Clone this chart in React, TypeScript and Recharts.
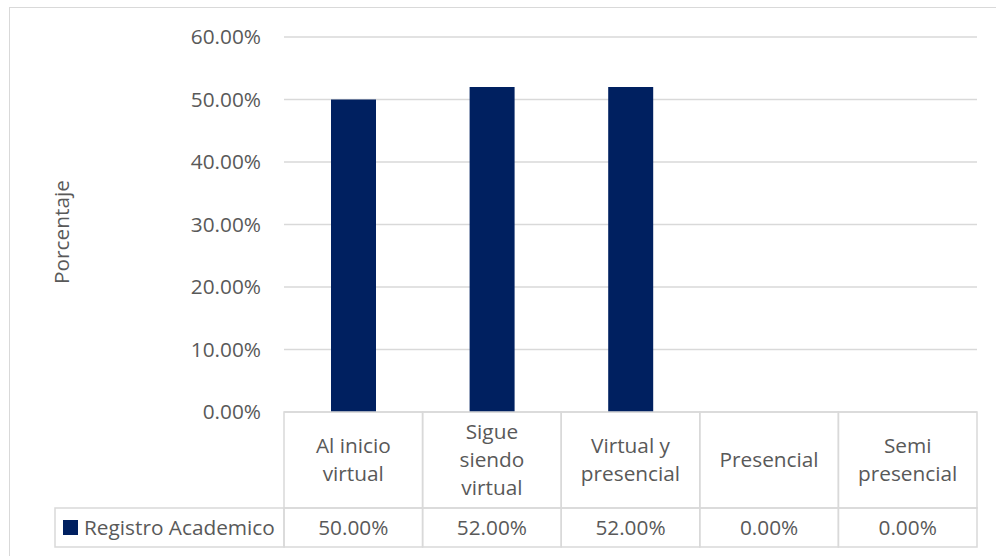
import React from 'react';
import { BarChart, Bar, XAxis, YAxis, CartesianGrid } from 'recharts';

// data
const categories = ['Al inicio virtual', 'Sigue siendo virtual', 'Virtual y presencial', 'Presencial', 'Semi presencial'];
const categoryLines = [['Al inicio', 'virtual'], ['Sigue', 'siendo', 'virtual'], ['Virtual y', 'presencial'], ['Presencial'], ['Semi', 'presencial']];
const registroAcademico = [50, 52, 52, 0, 0];
const yTicks = [0, 10, 20, 30, 40, 50, 60];
const seriesName = 'Registro Academico';
const axisTitle = 'Porcentaje';

const data = categories.map((name, i) => ({ name, value: registroAcademico[i] }));

// layout / style
const W = 996;
const H = 556;
const PLOT_LEFT = 284;
const PLOT_RIGHT = 977;
const CELL_W = (PLOT_RIGHT - PLOT_LEFT) / categories.length;
const HEAD_H = 96;
const ROW_H = 39;
const LEGEND_LEFT = 55;
const TEXT = '#595959';
const GRID = '#d9d9d9';
const BAR = '#002060';
const FS = 20.8;

const fmt = (v: number) => `${v.toFixed(2)}%`;

const HeaderTick = (props: any) => {
  const { x, y, index } = props;
  const lines = categoryLines[index] || [];
  const lh = 28;
  const startY = y + HEAD_H / 2 - ((lines.length - 1) * lh) / 2;
  return (
    <g>
      <rect x={x - CELL_W / 2} y={y} width={CELL_W} height={HEAD_H} fill="none" stroke={GRID} strokeWidth={1.5} />
      {lines.map((l, k) => (
        <text key={k} x={x} y={startY + k * lh} dy="0.35em" textAnchor="middle" fill={TEXT} fontSize={FS}>
          {l}
        </text>
      ))}
    </g>
  );
};

const ValueTick = (props: any) => {
  const { x, y, index } = props;
  const left = x - CELL_W / 2;
  return (
    <g>
      <rect x={left} y={y} width={CELL_W} height={ROW_H} fill="none" stroke={GRID} strokeWidth={1.5} />
      <text x={x} y={y + ROW_H / 2} dy="0.35em" textAnchor="middle" fill={TEXT} fontSize={FS}>
        {fmt(registroAcademico[index])}
      </text>
      {index === 0 && (
        <g>
          <rect x={LEGEND_LEFT} y={y} width={left - LEGEND_LEFT} height={ROW_H} fill="none" stroke={GRID} strokeWidth={1.5} />
          <rect x={LEGEND_LEFT + 8} y={y + ROW_H / 2 - 7.5} width={15} height={15} fill={BAR} />
          <text x={LEGEND_LEFT + 29} y={y + ROW_H / 2} dy="0.35em" fill={TEXT} fontSize={FS}>
            {seriesName}
          </text>
        </g>
      )}
    </g>
  );
};

const AxisTitle = () => (
  <text x={62} y={232} transform="rotate(-90 62 232)" textAnchor="middle" dy="0.35em" fill={TEXT} fontSize={FS}>
    {axisTitle}
  </text>
);

export default function App() {
  return (
    <div style={{ position: 'absolute', left: 0, top: 0, width: W, height: H, background: '#fff', fontFamily: '"Open Sans", sans-serif' }}>
      <div style={{ position: 'absolute', left: 9, top: 7, right: 0, bottom: 0, borderLeft: `1.5px solid ${GRID}`, borderTop: `1.5px solid ${GRID}` }} />
      <div style={{ position: 'absolute', left: 0, top: 0 }}>
        <BarChart width={W} height={H} data={data} margin={{ top: 37, right: W - PLOT_RIGHT, bottom: H - 37 - 375 - HEAD_H - ROW_H, left: 0 }}>
          <CartesianGrid vertical={false} stroke={GRID} strokeWidth={1.3} />
          <YAxis
            width={PLOT_LEFT}
            domain={[0, 60]}
            ticks={yTicks}
            tickFormatter={fmt}
            axisLine={false}
            tickLine={false}
            tickSize={0}
            tickMargin={23}
            tick={{ fill: TEXT, fontSize: FS }}
            label={{ content: () => <AxisTitle /> }}
          />
          <XAxis xAxisId="head" dataKey="name" height={HEAD_H} interval={0} axisLine={false} tickLine={false} tickSize={0} tickMargin={0} tick={(p: any) => <HeaderTick {...p} />} />
          <XAxis xAxisId="vals" dataKey="name" height={ROW_H} interval={0} axisLine={false} tickLine={false} tickSize={0} tickMargin={0} tick={(p: any) => <ValueTick {...p} />} />
          <Bar xAxisId="head" dataKey="value" fill={BAR} barSize={45} isAnimationActive={false} />
        </BarChart>
      </div>
    </div>
  );
}
